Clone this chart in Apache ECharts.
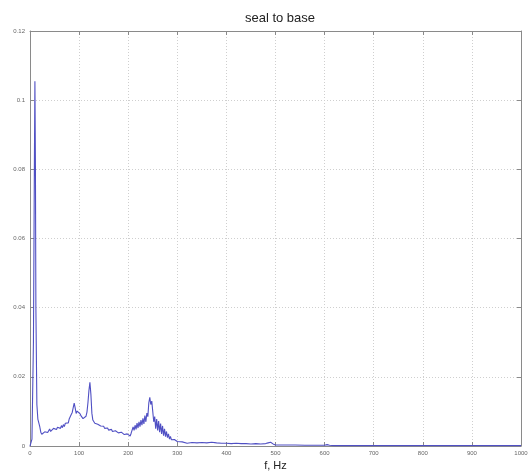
<!DOCTYPE html>
<html>
<head>
<meta charset="utf-8">
<script src="https://cdn.jsdelivr.net/npm/echarts@6/dist/echarts.min.js"></script>
<style>
  html, body { margin: 0; padding: 0; background: #fff; }
  #chart { width: 531px; height: 472px; }
</style>
</head>
<body>
<div id="chart"></div>
<script>
// Spectrum of the seal-to-base transfer (frequency in Hz, amplitude)
const freqHz = [
  0, 4, 7, 9, 10, 11, 12, 14, 16, 18, 20, 22,
  24, 26, 28, 30, 32, 34, 36, 38, 40, 42, 44, 46, 48, 50, 52, 54, 56, 58,
  60, 62, 64, 66, 68, 70, 72, 74, 76, 78, 80, 82, 84, 86, 88, 90, 92, 94, 96, 98,
  100, 102, 104, 106, 108, 110, 112, 114, 116, 118, 120, 122, 124, 126, 128,
  130, 132, 134, 136, 138, 140, 142, 144, 146, 148, 150, 152, 154, 156, 158,
  160, 162, 164, 166, 168, 170, 172, 174, 176, 178, 180, 182, 184, 186, 188,
  190, 192, 194, 196, 198, 200, 202, 204, 206, 208, 210, 212, 214, 216, 218,
  220, 222, 224, 226, 228, 230, 232, 234, 236, 238, 240, 242, 244, 246, 248,
  250, 252, 254, 256, 258, 260, 262, 264, 266, 268, 270, 272, 274, 276, 278,
  280, 282, 284, 286, 288, 290, 292, 294, 296, 298, 300,
  310, 320, 330, 340, 350, 360, 370, 380, 390, 400, 410, 420, 430, 440, 450,
  460, 470, 480, 485, 490, 495, 500, 510, 520, 540, 560, 580, 600, 605, 610,
  620, 650, 700, 750, 800, 850, 900, 950, 1000
];
const amplitude = [
  0.0000, 0.0020, 0.0300, 0.0830, 0.1055, 0.0830, 0.0400, 0.0120, 0.0078, 0.0075, 0.0055, 0.0040,
  0.0034, 0.0029, 0.0037, 0.0041, 0.0036, 0.0045, 0.0039, 0.0044, 0.0049, 0.0042, 0.0047, 0.0044, 0.0051, 0.0046, 0.0052, 0.0048, 0.0054, 0.0049,
  0.0056, 0.0051, 0.0059, 0.0053, 0.0062, 0.0056, 0.0066, 0.0061, 0.0071, 0.0067, 0.0079, 0.0083, 0.0091, 0.0097, 0.0111, 0.0124, 0.0110, 0.0094, 0.0101, 0.0104,
  0.0096, 0.0093, 0.0087, 0.0086, 0.0079, 0.0078, 0.0081, 0.0086, 0.0098, 0.0125, 0.0160, 0.0184, 0.0150, 0.0095, 0.0075,
  0.0071, 0.0066, 0.0068, 0.0065, 0.0063, 0.0061, 0.0062, 0.0058, 0.0060, 0.0055, 0.0057, 0.0051, 0.0055, 0.0049, 0.0052,
  0.0046, 0.0050, 0.0044, 0.0048, 0.0042, 0.0046, 0.0040, 0.0044, 0.0039, 0.0045, 0.0038, 0.0042, 0.0036, 0.0040, 0.0035,
  0.0039, 0.0033, 0.0037, 0.0031, 0.0035, 0.0030, 0.0033, 0.0029, 0.0037, 0.0042, 0.0055, 0.0045, 0.0060, 0.0048, 0.0066,
  0.0052, 0.0070, 0.0056, 0.0075, 0.0060, 0.0080, 0.0064, 0.0088, 0.0070, 0.0095, 0.0085, 0.0125, 0.0141, 0.0120, 0.0130,
  0.0100, 0.0070, 0.0085, 0.0050, 0.0078, 0.0045, 0.0072, 0.0040, 0.0065, 0.0035, 0.0058, 0.0030, 0.0050, 0.0027, 0.0042,
  0.0024, 0.0035, 0.0020, 0.0028, 0.0018, 0.0023, 0.0016, 0.0019, 0.0014, 0.0016, 0.0013,
  0.0012, 0.0008, 0.0010, 0.0009, 0.0010, 0.0009, 0.0011, 0.0009, 0.0008, 0.0008, 0.0007, 0.0008, 0.0007, 0.0007, 0.0006,
  0.0007, 0.0006, 0.0007, 0.0009, 0.0011, 0.0006, 0.0003, 0.0003, 0.0003, 0.0003, 0.0002, 0.0002, 0.0002, 0.0004, 0.0002,
  0.0001, 0.0001, 0.0001, 0.0001, 0.0001, 0.0001, 0.0001, 0.0001, 0.0001
];
const xTicks = [0, 100, 200, 300, 400, 500, 600, 700, 800, 900, 1000];
const yTicks = [0, 0.02, 0.04, 0.06, 0.08, 0.1, 0.12];

const points = freqHz.map((f, i) => [f, amplitude[i]]);

const labelStyle = { fontFamily: 'Liberation Sans, Arial, sans-serif', fontSize: 6, color: '#666' };
const gridLine = { show: true, lineStyle: { color: '#cfcfcf', type: [1, 2], width: 1 } };
const frameLine = { show: true, onZero: false, lineStyle: { color: '#8a8a8a', width: 1 } };
const innerTick = { show: true, inside: true, length: 4, lineStyle: { color: '#8a8a8a' } };

const chart = echarts.init(document.getElementById('chart'), null, { renderer: 'canvas' });
chart.setOption({
  animation: false,
  backgroundColor: '#ffffff',
  title: {
    text: 'seal to base',
    left: 275, textAlign: 'center', top: 7,
    textStyle: { fontFamily: 'Liberation Sans, Arial, sans-serif', fontSize: 13, fontWeight: 'normal', color: '#222' }
  },
  grid: { left: 30, right: 10, top: 31, bottom: 26, containLabel: false, outerBoundsMode: 'none' },
  xAxis: [
    {
      type: 'value', min: xTicks[0], max: xTicks[xTicks.length - 1], interval: 100,
      axisLine: frameLine, axisTick: innerTick, splitLine: gridLine,
      axisLabel: Object.assign({ margin: 4, formatter: v => String(v) }, labelStyle),
      name: 'f, Hz', nameLocation: 'middle', nameGap: 14,
      nameTextStyle: { fontFamily: 'Liberation Sans, Arial, sans-serif', fontSize: 11, color: '#222' }
    },
    {
      type: 'value', position: 'top', min: xTicks[0], max: xTicks[xTicks.length - 1], interval: 100,
      axisLine: frameLine, axisTick: innerTick, splitLine: { show: false }, axisLabel: { show: false }
    }
  ],
  yAxis: [
    {
      type: 'value', min: yTicks[0], max: yTicks[yTicks.length - 1], interval: 0.02,
      axisLine: frameLine, axisTick: innerTick, splitLine: gridLine,
      axisLabel: Object.assign({ margin: 5, formatter: v => String(+v.toFixed(2)) }, labelStyle)
    },
    {
      type: 'value', position: 'right', min: yTicks[0], max: yTicks[yTicks.length - 1], interval: 0.02,
      axisLine: frameLine, axisTick: innerTick, splitLine: { show: false }, axisLabel: { show: false }
    }
  ],
  series: [{
    type: 'line',
    data: points,
    showSymbol: false,
    lineStyle: { color: '#5050c4', width: 1.1 },
    z: 5
  }]
});
</script>
</body>
</html>
